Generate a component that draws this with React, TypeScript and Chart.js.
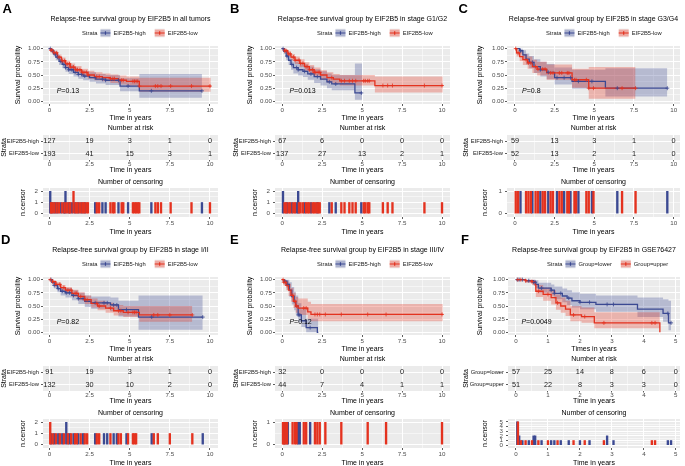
import React, { useEffect, useRef } from 'react';
import { Chart, registerables } from 'chart.js';

Chart.register(...registerables);

const FONT = '"Liberation Sans", Arial, Helvetica, sans-serif';
const BLUE = '#3B4992';
const RED = '#E4321F';
const BLUE_BAND = 'rgba(59,73,146,0.30)';
const RED_BAND = 'rgba(228,50,31,0.30)';
const PANEL_BG = '#EBEBEB';
const AXIS_TXT = '#4D4D4D';

type KMRow = [number, number, number, number]; // time, survival, lower CI, upper CI
type CensRow = [number, number]; // time, number censored

// ---------------- shared tick labels / strata ----------------
const YEARS_10 = [0, 2.5, 5, 7.5, 10];
const YEARS_5 = [0, 1, 2, 3, 4, 5];
const SURV_TICKS = [0, 0.25, 0.5, 0.75, 1];
const CENS_TICKS_2 = [0, 1, 2];
const CENS_TICKS_1 = [0, 1];
const CENS_TICKS_5 = [0, 1, 2, 3, 4, 5];
const STRATA_EIF = ['EIF2B5-high', 'EIF2B5-low'];
const STRATA_GROUP = ['Group=lower', 'Group=upper'];

// ---------------- Panel A: all tumors ----------------
const A_TITLE = 'Relapse-free survival group by EIF2B5 in all tumors';
const A_HIGH: KMRow[] = [
  [0, 1, 1, 1], [0.1, 0.96, 0.93, 0.99], [0.25, 0.9, 0.85, 0.95], [0.4, 0.84, 0.78, 0.9],
  [0.6, 0.76, 0.69, 0.83], [0.8, 0.7, 0.63, 0.78], [1.0, 0.64, 0.56, 0.72], [1.2, 0.6, 0.52, 0.69],
  [1.5, 0.55, 0.47, 0.64], [1.8, 0.51, 0.43, 0.6], [2.1, 0.48, 0.4, 0.57], [2.5, 0.45, 0.37, 0.55],
  [2.9, 0.42, 0.34, 0.52], [3.5, 0.4, 0.31, 0.5], [4.4, 0.29, 0.19, 0.44], [5.6, 0.2, 0.07, 0.52],
  [9.5, 0.2, 0.07, 0.52],
];
const A_LOW: KMRow[] = [
  [0, 1, 1, 1], [0.1, 0.97, 0.95, 0.99], [0.25, 0.92, 0.89, 0.96], [0.5, 0.84, 0.79, 0.89],
  [0.75, 0.77, 0.72, 0.83], [1.0, 0.71, 0.65, 0.77], [1.3, 0.65, 0.59, 0.72], [1.6, 0.6, 0.53, 0.67],
  [2.0, 0.55, 0.48, 0.62], [2.4, 0.5, 0.43, 0.58], [2.8, 0.47, 0.4, 0.55], [3.3, 0.45, 0.38, 0.53],
  [3.8, 0.43, 0.35, 0.51], [4.3, 0.4, 0.32, 0.49], [4.8, 0.38, 0.3, 0.47], [5.6, 0.29, 0.18, 0.45],
  [10.05, 0.29, 0.18, 0.45],
];
const A_RISK_HIGH = [127, 19, 3, 1, 0];
const A_RISK_LOW = [193, 41, 15, 3, 1];
const A_CENS_HIGH: CensRow[] = [
  [0.05, 2], [0.2, 1], [0.35, 1], [0.5, 1], [0.7, 1], [0.9, 1], [1.0, 2], [1.2, 1], [1.4, 1], [1.6, 1],
  [1.8, 1], [2.0, 1], [2.2, 1], [2.85, 1], [3.3, 1], [3.5, 1], [4.3, 1], [4.9, 1], [6.35, 1], [9.5, 1],
];
const A_CENS_LOW: CensRow[] = [
  [0.1, 1], [0.15, 1], [0.3, 1], [0.45, 1], [0.6, 1], [0.8, 1], [0.95, 1], [1.1, 1], [1.25, 1], [1.3, 1],
  [1.5, 2], [1.65, 1], [1.75, 1], [1.9, 1], [2.05, 1], [2.15, 1], [2.3, 1], [2.4, 1], [2.95, 1], [3.1, 1],
  [3.8, 1], [3.95, 1], [4.05, 1], [4.5, 1], [4.6, 1], [5.2, 1], [5.3, 1], [5.4, 1], [5.5, 1], [5.6, 1],
  [6.6, 1], [6.75, 1], [6.95, 1], [7.55, 1], [8.85, 1], [10.0, 1],
];

// ---------------- Panel B: stage G1/G2 ----------------
const B_TITLE = 'Relapse-free survival group by EIF2B5 in stage G1/G2';
const B_HIGH: KMRow[] = [
  [0, 1, 1, 1], [0.1, 0.95, 0.9, 1], [0.25, 0.86, 0.78, 0.95], [0.4, 0.78, 0.69, 0.88],
  [0.55, 0.7, 0.6, 0.81], [0.7, 0.64, 0.53, 0.76], [1.0, 0.6, 0.49, 0.73], [1.3, 0.57, 0.46, 0.7],
  [1.6, 0.52, 0.41, 0.66], [2.0, 0.47, 0.35, 0.61], [2.4, 0.42, 0.3, 0.57], [2.8, 0.37, 0.25, 0.53],
  [3.1, 0.33, 0.21, 0.5], [4.55, 0.16, 0.03, 0.72], [5.0, 0.16, 0.03, 0.72],
];
const B_LOW: KMRow[] = [
  [0, 1, 1, 1], [0.15, 0.96, 0.93, 0.99], [0.35, 0.9, 0.85, 0.95], [0.55, 0.84, 0.78, 0.9],
  [0.8, 0.78, 0.71, 0.85], [1.1, 0.72, 0.65, 0.8], [1.4, 0.66, 0.58, 0.74], [1.7, 0.6, 0.52, 0.69],
  [2.0, 0.55, 0.47, 0.64], [2.4, 0.5, 0.41, 0.59], [2.8, 0.45, 0.36, 0.55], [3.2, 0.42, 0.33, 0.52],
  [3.6, 0.39, 0.3, 0.5], [5.8, 0.3, 0.17, 0.47], [10.05, 0.3, 0.17, 0.47],
];
const B_RISK_HIGH = [67, 6, 0, 0, 0];
const B_RISK_LOW = [137, 27, 13, 2, 1];
const B_CENS_HIGH: CensRow[] = [
  [0.05, 2], [0.3, 1], [0.6, 1], [0.9, 1], [1.0, 2], [1.4, 1], [1.8, 1], [2.2, 1], [2.95, 1], [3.35, 1], [4.95, 1],
];
const B_CENS_LOW: CensRow[] = [
  [0.15, 1], [0.25, 1], [0.4, 1], [0.5, 1], [0.7, 1], [0.8, 1], [1.05, 1], [1.15, 1], [1.3, 1], [1.5, 1],
  [1.6, 1], [1.7, 1], [1.9, 1], [2.0, 1], [2.1, 1], [2.25, 1], [2.35, 1], [3.1, 1], [3.7, 1], [3.9, 1],
  [4.2, 1], [4.4, 1], [4.6, 1], [5.1, 1], [5.2, 1], [5.35, 1], [5.45, 1], [6.3, 1], [6.6, 1], [6.9, 1],
  [8.9, 1], [10.0, 1],
];

// ---------------- Panel C: stage G3/G4 ----------------
const C_TITLE = 'Relapse-free survival group by EIF2B5 in stage G3/G4';
const C_HIGH: KMRow[] = [
  [0, 1, 1, 1], [0.3, 0.96, 0.91, 1], [0.5, 0.88, 0.8, 0.97], [0.7, 0.8, 0.7, 0.91],
  [0.9, 0.74, 0.63, 0.86], [1.2, 0.66, 0.54, 0.8], [1.6, 0.6, 0.47, 0.75], [2.0, 0.55, 0.42, 0.71],
  [2.5, 0.45, 0.32, 0.64], [3.6, 0.38, 0.24, 0.6], [5.7, 0.25, 0.09, 0.63], [9.6, 0.25, 0.09, 0.63],
];
const C_LOW: KMRow[] = [
  [0, 1, 1, 1], [0.1, 0.92, 0.85, 0.99], [0.3, 0.85, 0.76, 0.95], [0.5, 0.79, 0.69, 0.9],
  [0.8, 0.73, 0.62, 0.85], [1.1, 0.66, 0.54, 0.79], [1.4, 0.61, 0.49, 0.75], [2.0, 0.54, 0.41, 0.7],
  [3.6, 0.41, 0.26, 0.62], [4.65, 0.25, 0.05, 0.65], [7.6, 0.25, 0.05, 0.65],
];
const C_RISK_HIGH = [59, 13, 3, 1, 0];
const C_RISK_LOW = [52, 13, 2, 1, 0];
const C_CENS_HIGH: CensRow[] = [
  [0.35, 1], [1.1, 1], [1.6, 1], [2.1, 1], [2.65, 1], [3.1, 1], [3.5, 1], [4.0, 1], [4.85, 1], [6.45, 1], [9.6, 1],
];
const C_CENS_LOW: CensRow[] = [
  [0.05, 1], [0.2, 1], [0.7, 1], [0.85, 1], [1.0, 1], [1.3, 1], [1.45, 1], [1.75, 1], [1.9, 1], [2.25, 1],
  [2.4, 1], [2.8, 1], [2.95, 1], [3.3, 1], [3.4, 1], [3.75, 1], [3.85, 1], [4.5, 1], [4.65, 1], [4.95, 1],
  [6.75, 1], [7.6, 1],
];

// ---------------- Panel D: stage I/II ----------------
const D_TITLE = 'Relapse-free survival group by EIF2B5 in stage I/II';
const D_HIGH: KMRow[] = [
  [0, 1, 1, 1], [0.15, 0.95, 0.91, 0.99], [0.3, 0.89, 0.83, 0.95], [0.5, 0.83, 0.76, 0.9],
  [0.7, 0.78, 0.7, 0.86], [1.0, 0.75, 0.66, 0.84], [1.4, 0.7, 0.61, 0.8], [1.8, 0.64, 0.54, 0.75],
  [2.2, 0.59, 0.48, 0.7], [2.6, 0.56, 0.45, 0.68], [3.8, 0.52, 0.4, 0.66], [4.3, 0.43, 0.3, 0.6],
  [5.55, 0.29, 0.05, 0.7], [9.55, 0.29, 0.05, 0.7],
];
const D_LOW: KMRow[] = [
  [0, 1, 1, 1], [0.2, 0.96, 0.93, 0.99], [0.4, 0.91, 0.87, 0.95], [0.7, 0.85, 0.8, 0.9],
  [1.0, 0.8, 0.74, 0.86], [1.4, 0.74, 0.67, 0.81], [1.8, 0.68, 0.61, 0.76], [2.2, 0.62, 0.54, 0.7],
  [2.6, 0.55, 0.47, 0.64], [3.0, 0.5, 0.42, 0.6], [3.5, 0.46, 0.37, 0.56], [4.0, 0.41, 0.32, 0.52],
  [4.6, 0.38, 0.29, 0.5], [5.6, 0.33, 0.2, 0.5], [8.9, 0.33, 0.2, 0.5],
];
const D_RISK_HIGH = [91, 19, 3, 1, 0];
const D_RISK_LOW = [132, 30, 10, 2, 0];
const D_CENS_HIGH: CensRow[] = [
  [0.1, 1], [0.3, 1], [0.55, 1], [0.8, 1], [1.05, 2], [1.25, 1], [1.5, 1], [1.8, 1], [2.1, 1], [2.85, 1],
  [3.4, 1], [3.6, 1], [4.0, 1], [4.2, 1], [4.8, 1], [6.37, 1], [9.55, 1],
];
const D_CENS_LOW: CensRow[] = [
  [0.05, 2], [0.2, 1], [0.4, 1], [0.65, 1], [0.9, 1], [1.15, 1], [1.35, 1], [1.6, 1], [1.7, 1], [1.95, 1],
  [2.2, 1], [2.35, 1], [2.95, 1], [3.1, 1], [3.8, 1], [4.3, 1], [4.45, 1], [4.9, 1], [5.2, 1], [5.3, 1],
  [5.4, 1], [6.5, 1], [6.75, 1], [7.5, 1], [8.9, 1],
];

// ---------------- Panel E: stage III/IV ----------------
const E_TITLE = 'Relapse-free survival group by EIF2B5 in stage III/IV';
const E_HIGH: KMRow[] = [
  [0, 1, 1, 1], [0.15, 0.97, 0.91, 1], [0.3, 0.91, 0.81, 1], [0.45, 0.8, 0.67, 0.95],
  [0.6, 0.68, 0.53, 0.86], [0.75, 0.58, 0.42, 0.77], [0.85, 0.5, 0.34, 0.7], [1.0, 0.33, 0.19, 0.55],
  [1.2, 0.22, 0.1, 0.44], [1.5, 0.09, 0.0, 0.26], [2.2, 0, 0, 0.26], [2.26, 0, 0, 0.26],
];
const E_LOW: KMRow[] = [
  [0, 1, 1, 1], [0.1, 0.95, 0.89, 1], [0.25, 0.89, 0.8, 0.98], [0.4, 0.8, 0.69, 0.92],
  [0.55, 0.7, 0.58, 0.84], [0.7, 0.59, 0.46, 0.75], [0.85, 0.5, 0.37, 0.67], [1.0, 0.46, 0.33, 0.64],
  [1.6, 0.39, 0.26, 0.58], [1.8, 0.34, 0.21, 0.54], [10.05, 0.34, 0.21, 0.54],
];
const E_RISK_HIGH = [32, 0, 0, 0, 0];
const E_RISK_LOW = [44, 7, 4, 1, 1];
const E_CENS_HIGH: CensRow[] = [[0.15, 1], [0.35, 1], [1.0, 1], [1.1, 1], [1.75, 1]];
const E_CENS_LOW: CensRow[] = [
  [0.05, 1], [0.1, 1], [0.2, 1], [0.3, 1], [0.65, 1], [0.8, 1], [0.9, 1], [1.35, 1], [1.5, 1], [2.05, 1],
  [2.2, 1], [2.35, 1], [2.7, 1], [3.7, 1], [5.35, 1], [6.5, 1], [10.0, 1],
];

// ---------------- Panel F: GSE76427 ----------------
const F_TITLE = 'Relapse-free survival group by EIF2B5 in GSE76427';
const F_LOWER: KMRow[] = [
  [0, 1, 1, 1], [0.3, 0.98, 0.95, 1], [0.55, 0.95, 0.89, 1], [0.62, 0.91, 0.84, 0.99],
  [0.7, 0.84, 0.75, 0.94], [1.1, 0.8, 0.7, 0.91], [1.2, 0.74, 0.63, 0.87], [1.45, 0.69, 0.57, 0.83],
  [1.6, 0.65, 0.52, 0.8], [1.75, 0.6, 0.47, 0.76], [2.0, 0.57, 0.44, 0.73], [2.5, 0.53, 0.39, 0.7],
  [3.8, 0.44, 0.29, 0.66], [4.6, 0.36, 0.2, 0.63], [4.77, 0.18, 0.04, 0.6], [4.85, 0.18, 0.04, 0.6],
];
const F_UPPER: KMRow[] = [
  [0, 1, 1, 1], [0.3, 0.98, 0.94, 1], [0.5, 0.96, 0.9, 1], [0.6, 0.9, 0.82, 0.98],
  [0.62, 0.78, 0.67, 0.9], [0.85, 0.72, 0.6, 0.85], [1.1, 0.66, 0.53, 0.8], [1.25, 0.56, 0.43, 0.72],
  [1.4, 0.5, 0.37, 0.66], [1.55, 0.44, 0.31, 0.6], [1.7, 0.33, 0.21, 0.5], [2.05, 0.3, 0.18, 0.47],
  [2.45, 0.18, 0.08, 0.38], [4.5, 0, 0, 0.38],
];
const F_RISK_LOWER = [57, 25, 14, 8, 6, 0];
const F_RISK_UPPER = [51, 22, 8, 3, 3, 0];
const F_CENS_LOWER: CensRow[] = [
  [0.04, 5], [0.1, 2], [0.2, 1], [0.4, 1], [0.55, 2], [0.6, 2], [0.8, 1], [1.1, 1], [1.2, 1], [1.4, 1],
  [1.65, 1], [2.0, 1], [2.3, 1], [2.85, 2], [3.05, 1], [4.75, 1], [4.85, 1],
];
const F_CENS_UPPER: CensRow[] = [
  [0.06, 5], [0.15, 1], [0.3, 1], [0.5, 1], [0.7, 1], [1.0, 1], [1.3, 1], [1.8, 1], [2.15, 1], [2.75, 1],
  [4.25, 1], [4.35, 1],
];

// ---------------- layout (panel-local geometry) ----------------
const W = 230;
const PAD_RIGHT = 12;
const KM_H = 122, KM_TOP = 46, KM_BOTTOM = 104;
const RISK_Y = 122, RISK_H = 52, RISK_TOP = 13, RISK_BOTTOM = 38;
const CENS_Y = 172, CENS_H = 64, CENS_TOP = 16, CENS_BOTTOM = 45;

interface Spec {
  letter: string; letterX: number; letterY: number;
  x0: number; y0: number; plotLeft: number;
  title: string; strata: string[]; kmXTitle: string;
  high: KMRow[]; low: KMRow[];
  riskHigh: number[]; riskLow: number[];
  censHigh: CensRow[]; censLow: CensRow[];
  xTicks: number[]; xMin: number; xMax: number;
  censTicks: number[]; censPad: number;
  pval: string; pvalX: number; legendX: number;
}

const PANELS: Spec[] = [
  { letter: 'A', letterX: 2.5, letterY: 1.5, x0: 0, y0: 0, plotLeft: 43, title: A_TITLE, strata: STRATA_EIF,
    kmXTitle: 'Time in years', high: A_HIGH, low: A_LOW, riskHigh: A_RISK_HIGH, riskLow: A_RISK_LOW,
    censHigh: A_CENS_HIGH, censLow: A_CENS_LOW, xTicks: YEARS_10, xMin: -0.4, xMax: 10.5,
    censTicks: CENS_TICKS_2, censPad: 0.3, pval: '=0.13', pvalX: 0.45, legendX: 82 },
  { letter: 'B', letterX: 230, letterY: 1.5, x0: 232, y0: 0, plotLeft: 43, title: B_TITLE, strata: STRATA_EIF,
    kmXTitle: 'Time in years', high: B_HIGH, low: B_LOW, riskHigh: B_RISK_HIGH, riskLow: B_RISK_LOW,
    censHigh: B_CENS_HIGH, censLow: B_CENS_LOW, xTicks: YEARS_10, xMin: -0.45, xMax: 10.5,
    censTicks: CENS_TICKS_2, censPad: 0.3, pval: '=0.013', pvalX: 0.45, legendX: 85 },
  { letter: 'C', letterX: 458.5, letterY: 1.5, x0: 462, y0: 0, plotLeft: 45, title: C_TITLE, strata: STRATA_EIF,
    kmXTitle: 'Time in years', high: C_HIGH, low: C_LOW, riskHigh: C_RISK_HIGH, riskLow: C_RISK_LOW,
    censHigh: C_CENS_HIGH, censLow: C_CENS_LOW, xTicks: YEARS_10, xMin: -0.5, xMax: 10.4,
    censTicks: CENS_TICKS_1, censPad: 0.15, pval: '=0.8', pvalX: 0.45, legendX: 84 },
  { letter: 'D', letterX: 1, letterY: 233, x0: 0, y0: 231, plotLeft: 43, title: D_TITLE, strata: STRATA_EIF,
    kmXTitle: 'Time in years', high: D_HIGH, low: D_LOW, riskHigh: D_RISK_HIGH, riskLow: D_RISK_LOW,
    censHigh: D_CENS_HIGH, censLow: D_CENS_LOW, xTicks: YEARS_10, xMin: -0.4, xMax: 10.5,
    censTicks: CENS_TICKS_2, censPad: 0.3, pval: '=0.82', pvalX: 0.45, legendX: 82 },
  { letter: 'E', letterX: 230, letterY: 233, x0: 232, y0: 231, plotLeft: 43, title: E_TITLE, strata: STRATA_EIF,
    kmXTitle: 'Time in years', high: E_HIGH, low: E_LOW, riskHigh: E_RISK_HIGH, riskLow: E_RISK_LOW,
    censHigh: E_CENS_HIGH, censLow: E_CENS_LOW, xTicks: YEARS_10, xMin: -0.45, xMax: 10.5,
    censTicks: CENS_TICKS_1, censPad: 0.15, pval: '=0.12', pvalX: 0.45, legendX: 85 },
  { letter: 'F', letterX: 461, letterY: 233, x0: 462, y0: 231, plotLeft: 46, title: F_TITLE, strata: STRATA_GROUP,
    kmXTitle: 'Times in years', high: F_LOWER, low: F_UPPER, riskHigh: F_RISK_LOWER, riskLow: F_RISK_UPPER,
    censHigh: F_CENS_LOWER, censLow: F_CENS_UPPER, xTicks: YEARS_5, xMin: -0.25, xMax: 5.13,
    censTicks: CENS_TICKS_5, censPad: 0.6, pval: '=0.0049', pvalX: 0.17, legendX: 85 },
];

// ---------------- helpers ----------------
function survAt(rows: KMRow[], t: number): number {
  let s = rows[0][1];
  for (const r of rows) {
    if (r[0] <= t) s = r[1];
    else break;
  }
  return s;
}

function withMinors(majors: number[]): number[] {
  const all = [...majors];
  for (let i = 0; i < majors.length - 1; i++) all.push((majors[i] + majors[i + 1]) / 2);
  return all.sort((a, b) => a - b);
}

const isMajor = (majors: number[], v: number) => majors.some((m) => Math.abs(m - v) < 1e-9);

function gridFor(majors: number[], tickLen: number) {
  return {
    color: '#FFFFFF',
    lineWidth: (c: any) => (c.tick && isMajor(majors, c.tick.value) ? 1 : 0.5),
    drawTicks: true,
    tickLength: tickLen,
    tickColor: (c: any) => (c.tick && isMajor(majors, c.tick.value) ? '#333333' : 'rgba(0,0,0,0)'),
    tickWidth: 0.8,
    offset: false,
  };
}

function xAxis(spec: Spec, title: string, height: number, tickLen: number, pad: number, lineH: number) {
  const majors = spec.xTicks;
  return {
    type: 'linear',
    min: spec.xMin,
    max: spec.xMax,
    offset: false,
    afterBuildTicks: (s: any) => {
      s.ticks = withMinors(majors).map((v) => ({ value: v }));
    },
    afterFit: (s: any) => {
      s.height = height;
    },
    ticks: {
      autoSkip: false,
      maxRotation: 0,
      minRotation: 0,
      padding: pad,
      color: AXIS_TXT,
      font: { family: FONT, size: 6.2, lineHeight: lineH },
      callback: (v: any) => (isMajor(majors, Number(v)) ? String(Number(v)) : ''),
    },
    grid: gridFor(majors, tickLen),
    border: { display: false },
    title: {
      display: true,
      text: title,
      color: '#000',
      font: { family: FONT, size: 7, lineHeight: 1.2 },
      padding: { top: 0, bottom: 0 },
    },
  };
}

const bgPlugin = {
  id: 'panelBg',
  beforeDraw(chart: any) {
    const { ctx, chartArea: ca } = chart;
    ctx.save();
    ctx.fillStyle = PANEL_BG;
    ctx.fillRect(ca.left, ca.top, ca.right - ca.left, ca.bottom - ca.top);
    ctx.restore();
  },
};

function makeKM(canvas: HTMLCanvasElement, spec: Spec) {
  const pts = (rows: KMRow[], k: number) => rows.map((r) => ({ x: r[0], y: r[k] }));
  const textPlugin = {
    id: 'kmText',
    afterDraw(chart: any) {
      const { ctx, chartArea: ca } = chart;
      ctx.save();
      ctx.textBaseline = 'middle';
      // title
      ctx.font = `7px ${FONT}`;
      ctx.fillStyle = '#000';
      ctx.textAlign = 'center';
      ctx.fillText(spec.title, (ca.left + ca.right) / 2, 19);
      // legend
      ctx.textAlign = 'left';
      ctx.font = `5.8px ${FONT}`;
      const ly = 33;
      let x = spec.legendX;
      ctx.fillStyle = '#1A1A1A';
      ctx.fillText('Strata', x, ly);
      x += ctx.measureText('Strata').width + 3;
      const items: [string, string, string][] = [
        [BLUE, 'rgba(59,73,146,0.38)', spec.strata[0]],
        [RED, 'rgba(228,50,31,0.38)', spec.strata[1]],
      ];
      items.forEach(([lc, bc, txt], i) => {
        ctx.fillStyle = '#F2F2F2';
        ctx.fillRect(x, ly - 4.5, 10, 9);
        ctx.fillStyle = bc;
        ctx.fillRect(x, ly - 3.5, 10, 7);
        ctx.strokeStyle = lc;
        ctx.lineWidth = 1.2;
        ctx.beginPath();
        ctx.moveTo(x, ly);
        ctx.lineTo(x + 10, ly);
        ctx.moveTo(x + 5, ly - 1.8);
        ctx.lineTo(x + 5, ly + 1.8);
        ctx.stroke();
        x += 13;
        ctx.fillStyle = '#1A1A1A';
        ctx.fillText(txt, x, ly);
        x += ctx.measureText(txt).width + (i === 0 ? 9 : 0);
      });
      // p-value
      const px = chart.scales.x.getPixelForValue(spec.pvalX);
      const py = chart.scales.y.getPixelForValue(0.2);
      ctx.fillStyle = '#000';
      ctx.font = `italic 7px ${FONT}`;
      ctx.fillText('P', px, py);
      const pw = ctx.measureText('P').width;
      ctx.font = `7px ${FONT}`;
      ctx.fillText(spec.pval, px + pw, py);
      ctx.restore();
    },
  };

  return new Chart(canvas, {
    type: 'line',
    data: {
      datasets: [
        { data: pts(spec.high, 2), borderWidth: 0, borderColor: 'rgba(0,0,0,0)', pointRadius: 0, fill: false, stepped: true, order: 6 },
        { data: pts(spec.high, 3), borderWidth: 0, borderColor: 'rgba(0,0,0,0)', pointRadius: 0, fill: '-1', backgroundColor: BLUE_BAND, stepped: true, order: 6 },
        { data: pts(spec.low, 2), borderWidth: 0, borderColor: 'rgba(0,0,0,0)', pointRadius: 0, fill: false, stepped: true, order: 5 },
        { data: pts(spec.low, 3), borderWidth: 0, borderColor: 'rgba(0,0,0,0)', pointRadius: 0, fill: '-1', backgroundColor: RED_BAND, stepped: true, order: 5 },
        { data: pts(spec.high, 1), borderColor: BLUE, borderWidth: 1.3, pointRadius: 0, fill: false, stepped: true, order: 3 },
        { data: pts(spec.low, 1), borderColor: RED, borderWidth: 1.3, pointRadius: 0, fill: false, stepped: true, order: 2 },
        {
          type: 'scatter',
          data: spec.censHigh.map((c) => ({ x: c[0], y: survAt(spec.high, c[0]) })),
          pointStyle: 'cross', pointRadius: 2, borderColor: BLUE, backgroundColor: BLUE, borderWidth: 0.8, showLine: false, order: 1,
        },
        {
          type: 'scatter',
          data: spec.censLow.map((c) => ({ x: c[0], y: survAt(spec.low, c[0]) })),
          pointStyle: 'cross', pointRadius: 2, borderColor: RED, backgroundColor: RED, borderWidth: 0.8, showLine: false, order: 0,
        },
      ] as any,
    },
    options: {
      responsive: false,
      animation: false,
      events: [],
      layout: { padding: { top: KM_TOP, right: PAD_RIGHT, left: 0, bottom: 0 } },
      plugins: { legend: { display: false }, title: { display: false }, tooltip: { enabled: false } },
      scales: {
        x: xAxis(spec, spec.kmXTitle, KM_H - KM_BOTTOM, 2, 0.5, 1.2) as any,
        y: {
          type: 'linear',
          min: -0.05,
          max: 1.05,
          afterBuildTicks: (s: any) => {
            s.ticks = withMinors(SURV_TICKS).map((v) => ({ value: v }));
          },
          afterFit: (s: any) => {
            s.width = spec.plotLeft;
          },
          ticks: {
            autoSkip: false,
            padding: 1,
            color: AXIS_TXT,
            font: { family: FONT, size: 6.2 },
            callback: (v: any) => (isMajor(SURV_TICKS, Number(v)) ? Number(v).toFixed(2) : ''),
          },
          grid: gridFor(SURV_TICKS, 2),
          border: { display: false },
          title: {
            display: true,
            text: 'Survival probability',
            color: '#000',
            font: { family: FONT, size: 7, lineHeight: 1.2 },
            padding: { top: 13.8, bottom: 0 },
          },
        } as any,
      },
    },
    plugins: [bgPlugin, textPlugin],
  });
}

function makeRisk(canvas: HTMLCanvasElement, spec: Spec) {
  const riskPlugin = {
    id: 'riskText',
    afterDatasetsDraw(chart: any) {
      const { ctx, chartArea: ca } = chart;
      ctx.save();
      ctx.textBaseline = 'middle';
      ctx.textAlign = 'center';
      ctx.fillStyle = '#000';
      ctx.font = `7px ${FONT}`;
      ctx.fillText('Number at risk', (ca.left + ca.right) / 2, 6.5);
      ctx.fillStyle = '#1A1A1A';
      ctx.font = `7.3px ${FONT}`;
      [spec.riskHigh, spec.riskLow].forEach((vals, i) => {
        const meta = chart.getDatasetMeta(i);
        meta.data.forEach((el: any, j: number) => {
          ctx.fillText(String(vals[j]), el.x, el.y);
        });
      });
      ctx.restore();
    },
  };
  return new Chart(canvas, {
    type: 'scatter',
    data: {
      datasets: [
        { data: spec.xTicks.map((t) => ({ x: t, y: spec.strata[0] })), pointRadius: 0 },
        { data: spec.xTicks.map((t) => ({ x: t, y: spec.strata[1] })), pointRadius: 0 },
      ] as any,
    },
    options: {
      responsive: false,
      animation: false,
      events: [],
      layout: { padding: { top: RISK_TOP, right: PAD_RIGHT, left: 0, bottom: 0 } },
      plugins: { legend: { display: false }, tooltip: { enabled: false } },
      scales: {
        x: xAxis(spec, 'Time in years', RISK_H - RISK_BOTTOM, 1.5, 0, 1) as any,
        y: {
          type: 'category',
          labels: spec.strata,
          offset: true,
          afterFit: (s: any) => {
            s.width = spec.plotLeft;
          },
          ticks: { color: '#1A1A1A', font: { family: FONT, size: 5.8 }, padding: 2 },
          grid: { color: '#FFFFFF', lineWidth: 1, drawTicks: true, tickLength: 2, tickColor: '#333333', tickWidth: 0.8 },
          border: { display: false },
          title: {
            display: true,
            text: 'Strata',
            color: '#000',
            font: { family: FONT, size: 7, lineHeight: 1.2 },
            padding: { top: 0.3, bottom: 0 },
          },
        } as any,
      },
    },
    plugins: [bgPlugin, riskPlugin],
  });
}

function makeCens(canvas: HTMLCanvasElement, spec: Spec) {
  const majors = spec.censTicks;
  const cmax = majors[majors.length - 1];
  const titlePlugin = {
    id: 'censTitle',
    afterDraw(chart: any) {
      const { ctx, chartArea: ca } = chart;
      ctx.save();
      ctx.textBaseline = 'middle';
      ctx.textAlign = 'center';
      ctx.fillStyle = '#000';
      ctx.font = `7px ${FONT}`;
      ctx.fillText('Number of censoring', (ca.left + ca.right) / 2, 10.3);
      ctx.restore();
    },
  };
  return new Chart(canvas, {
    type: 'bar',
    data: {
      datasets: [
        { data: spec.censHigh.map((c) => ({ x: c[0], y: c[1] })), backgroundColor: BLUE, barThickness: 1.7, grouped: false, order: 2 },
        { data: spec.censLow.map((c) => ({ x: c[0], y: c[1] })), backgroundColor: RED, barThickness: 1.7, grouped: false, order: 1 },
      ] as any,
    },
    options: {
      responsive: false,
      animation: false,
      events: [],
      layout: { padding: { top: CENS_TOP, right: PAD_RIGHT, left: 0, bottom: 0 } },
      plugins: { legend: { display: false }, tooltip: { enabled: false } },
      scales: {
        x: xAxis(spec, 'Time in years', CENS_H - CENS_BOTTOM, 2, 1, 1) as any,
        y: {
          type: 'linear',
          min: -spec.censPad,
          max: cmax + spec.censPad,
          afterBuildTicks: (s: any) => {
            s.ticks = withMinors(majors).map((v) => ({ value: v }));
          },
          afterFit: (s: any) => {
            s.width = spec.plotLeft;
          },
          ticks: {
            autoSkip: false,
            padding: 3,
            color: AXIS_TXT,
            font: { family: FONT, size: 6.2 },
            callback: (v: any) => (isMajor(majors, Number(v)) ? String(Number(v)) : ''),
          },
          grid: gridFor(majors, 2),
          border: { display: false },
          title: {
            display: true,
            text: 'n.censor',
            color: '#000',
            font: { family: FONT, size: 7, lineHeight: 1.2 },
            padding: { top: 18.5, bottom: 0 },
          },
        } as any,
      },
    },
    plugins: [bgPlugin, titlePlugin],
  });
}

function Panel({ spec }: { spec: Spec }) {
  const kmRef = useRef<HTMLCanvasElement>(null);
  const riskRef = useRef<HTMLCanvasElement>(null);
  const censRef = useRef<HTMLCanvasElement>(null);
  useEffect(() => {
    const charts: Chart[] = [];
    if (kmRef.current) charts.push(makeKM(kmRef.current, spec));
    if (riskRef.current) charts.push(makeRisk(riskRef.current, spec));
    if (censRef.current) charts.push(makeCens(censRef.current, spec));
    return () => charts.forEach((c) => c.destroy());
  }, [spec]);
  const cs = (top: number, h: number): React.CSSProperties => ({
    position: 'absolute',
    left: spec.x0,
    top: spec.y0 + top,
    width: W,
    height: h,
    display: 'block',
  });
  return (
    <>
      <canvas ref={kmRef} width={W} height={KM_H} style={cs(0, KM_H)} />
      <canvas ref={riskRef} width={W} height={RISK_H} style={cs(RISK_Y, RISK_H)} />
      <canvas ref={censRef} width={W} height={CENS_H} style={cs(CENS_Y, CENS_H)} />
      <div
        style={{
          position: 'absolute',
          left: spec.letterX,
          top: spec.letterY,
          font: `bold 13px ${FONT}`,
          lineHeight: '13px',
          color: '#000',
        }}
      >
        {spec.letter}
      </div>
    </>
  );
}

export default function App() {
  return (
    <div
      style={{
        position: 'fixed',
        left: 0,
        top: 0,
        width: 685,
        height: 466,
        background: '#FFFFFF',
        overflow: 'hidden',
      }}
    >
      {PANELS.map((p) => (
        <Panel key={p.letter} spec={p} />
      ))}
    </div>
  );
}
